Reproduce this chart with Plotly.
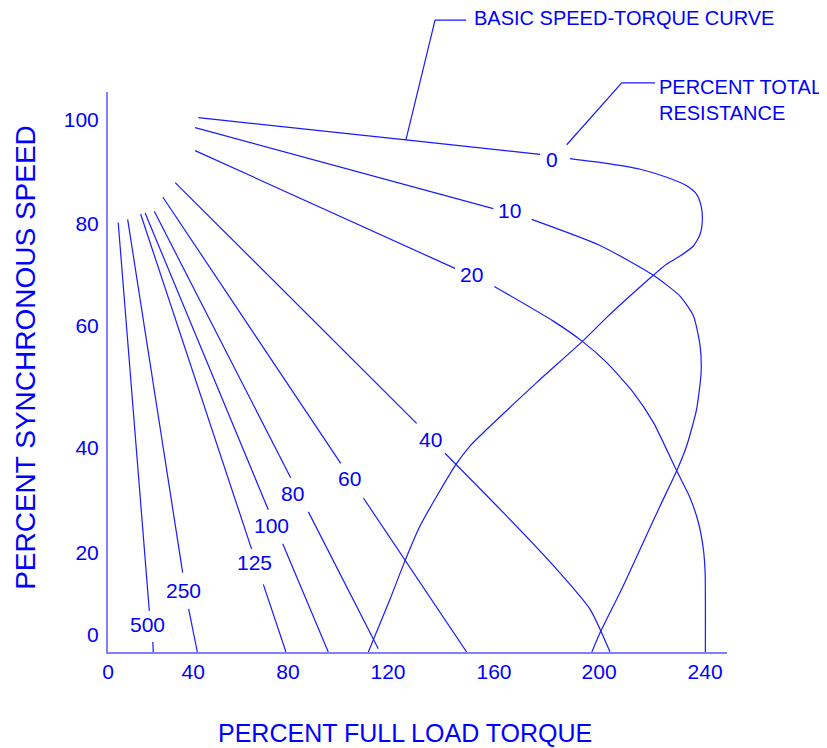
import plotly.graph_objects as go

# ---------------- data ----------------
# torque in percent full-load torque, speed in percent synchronous speed
# None marks the break in each curve where its label sits
r0_torque = [36.3, 119.7, 173.6, None, 185.6, 200.4, 213.8, 224.5, 232.5, 236.5, 238.3, 238.8, 237.9,
             235.2, 229.8, 224.5, 219.1, 209.7, 200.4, 190.6, 172.3, 152.2, 145.5, 139.8, 125.4,
             119.3, 113.3, 104.6]
r0_speed = [100.3, 96.1, 93.4, None, 92.6, 91.7, 90.6, 89.1, 87.5, 85.9, 83.7, 81.2, 78.4,
            76.2, 74.3, 72.8, 70.7, 66.8, 62.8, 58.3, 50.6, 41.8, 38.7, 35.2, 23.7,
            17.1, 9.9, 0]

r10_torque = [35.0, 154.8, None, 170.2, 197.7, 219.1, 229.8, 235.2, 237.9, 238.3, 236.5, 232.5,
              228.5, 221.8, 213.8, 207.0, 197.7, 194.4]
r10_speed = [98.4, 83.2, None, 81.2, 76.3, 70.7, 66.8, 63.1, 57.4, 52.5, 45.6, 38.7,
             34.0, 27.4, 19.3, 12.4, 3.6, 0]

r20_torque = [35.0, 139.4, None, 155.2, 178.9, 190.6, 200.4, 211.1, 219.1, 228.5, 233.8, 237.2,
              239.2, 239.9, 240.0]
r20_speed = [94.1, 72.0, None, 68.6, 62.1, 58.3, 54.3, 48.7, 43.1, 34.0, 29.0, 24.3,
             19.3, 15.0, 0]

r40_torque = [27.0, 124.0, None, 135.4, 160.2, 180.3, 193.7, 201.7]
r40_speed = [88.1, 42.9, None, 37.3, 25.5, 15.5, 8.0, 0]

r60_torque = [22.0, 93.5, None, 102.6, 144.1]
r60_speed = [85.4, 35.4, None, 28.9, 0]

r80_torque = [18.6, 73.4, None, 80.5, 108.6]
r80_speed = [82.7, 32.7, None, 26.3, 0.6]

r100_torque = [14.9, 64.4, None, 70.2, 88.5]
r100_speed = [82.4, 26.7, None, 20.3, 0]

r125_torque = [13.1, 57.7, None, 62.4, 71.5]
r125_speed = [82.2, 19.3, None, 12.7, 0]

r250_torque = [7.9, 30.0, None, 32.4, 35.9]
r250_speed = [81.2, 14.9, None, 8.1, 0]

r500_torque = [4.1, 16.6, None, 18.0, 18.2]
r500_speed = [80.6, 7.7, None, 1.9, 0]

resistance_labels = ["0", "10", "20", "40", "60", "80", "100", "125", "250", "500"]
label_torque = [178.3, 161.5, 146.1, 129.4, 97.0, 74.1, 65.8, 58.8, 30.3, 16.0]
label_speed = [92.5, 82.8, 70.9, 39.9, 32.6, 29.8, 23.8, 16.8, 11.6, 5.1]

x_tick_text = ["0", "40", "80", "120", "160", "200", "240"]
x_tick_pos = [0, 34.2, 72.3, 112.5, 155.1, 197.3, 239.9]
y_tick_text = ["100", "80", "60", "40", "20", "0"]
y_tick_pos = [100.0, 80.3, 61.2, 38.4, 18.7, 3.2]

# leader lines for the call-outs (torque, speed)
basic_leader_torque = [119.7, 131.4, 143.9]
basic_leader_speed = [96.1, 118.6, 118.6]
resist_leader_torque = [184.3, 206.4, 219.8]
resist_leader_speed = [95.2, 106.8, 106.8]

# call-out text anchors (torque, speed)
basic_text_pos = (146.1, 118.9)
resist_text_pos = (220.6, 103.6)

X_MAX = 248.7
Y_MAX = 105.1

BLUE = "#0000ff"
LINE = "#1a1aff"
FONT = "Liberation Sans, Arial, sans-serif"

curves = [
    (r0_torque, r0_speed), (r10_torque, r10_speed), (r20_torque, r20_speed),
    (r40_torque, r40_speed), (r60_torque, r60_speed), (r80_torque, r80_speed),
    (r100_torque, r100_speed), (r125_torque, r125_speed), (r250_torque, r250_speed),
    (r500_torque, r500_speed),
]

fig = go.Figure()
for (tx, sy), name in zip(curves, resistance_labels):
    fig.add_trace(go.Scatter(
        x=tx, y=sy, mode="lines", name=name,
        line=dict(color=LINE, width=1.2, shape="spline", smoothing=0.6),
        connectgaps=False, hoverinfo="skip",
    ))

annotations = []
for t, s, txt in zip(label_torque, label_speed, resistance_labels):
    annotations.append(dict(x=t, y=s, xref="x", yref="y", text=txt, showarrow=False,
                            font=dict(family=FONT, size=21, color=BLUE),
                            xanchor="center", yanchor="middle"))

annotations.append(dict(x=basic_text_pos[0] / X_MAX, y=basic_text_pos[1] / Y_MAX,
                        xref="paper", yref="paper", text="BASIC SPEED-TORQUE CURVE",
                        showarrow=False, xanchor="left", yanchor="middle",
                        font=dict(family=FONT, size=20, color=BLUE)))
annotations.append(dict(x=resist_text_pos[0] / X_MAX, y=resist_text_pos[1] / Y_MAX,
                        xref="paper", yref="paper", text="PERCENT TOTAL<br>RESISTANCE",
                        showarrow=False, xanchor="left", yanchor="middle", align="left",
                        font=dict(family=FONT, size=20, color=BLUE)))
annotations.append(dict(x=0.4806, y=-0.1444, xref="paper", yref="paper",
                        text="PERCENT FULL LOAD TORQUE", showarrow=False,
                        xanchor="center", yanchor="middle",
                        font=dict(family=FONT, size=25, color=BLUE)))
annotations.append(dict(x=-0.1325, y=0.527, xref="paper", yref="paper",
                        text="PERCENT SYNCHRONOUS SPEED", showarrow=False, textangle=-90,
                        xanchor="center", yanchor="middle",
                        font=dict(family=FONT, size=28, color=BLUE)))


def leader_path(tx, sy):
    pts = [(t / X_MAX, s / Y_MAX) for t, s in zip(tx, sy)]
    return "M " + " L ".join(f"{px:.5f},{py:.5f}" for px, py in pts)


shapes = [
    dict(type="path", xref="paper", yref="paper",
         path=leader_path(basic_leader_torque, basic_leader_speed),
         line=dict(color=LINE, width=1.2)),
    dict(type="path", xref="paper", yref="paper",
         path=leader_path(resist_leader_torque, resist_leader_speed),
         line=dict(color=LINE, width=1.2)),
]

# the page body has an 8px margin, so the figure is 8px smaller on each axis
fig.update_layout(
    width=819, height=740,
    margin=dict(l=100, r=100, t=84, b=96),
    paper_bgcolor="white", plot_bgcolor="white",
    showlegend=False,
    annotations=annotations,
    shapes=shapes,
    xaxis=dict(range=[0, X_MAX], showline=True, linecolor="#8080ff", linewidth=2,
               ticks="", showgrid=False, zeroline=False,
               tickmode="array", tickvals=x_tick_pos, ticktext=x_tick_text,
               tickfont=dict(family=FONT, size=21, color=BLUE)),
    yaxis=dict(range=[0, Y_MAX], showline=True, linecolor="#8080ff", linewidth=2,
               ticks="", showgrid=False, zeroline=False, ticklabelstandoff=3,
               tickmode="array", tickvals=y_tick_pos, ticktext=y_tick_text,
               tickfont=dict(family=FONT, size=21, color=BLUE)),
)

fig.write_html("out.html")
